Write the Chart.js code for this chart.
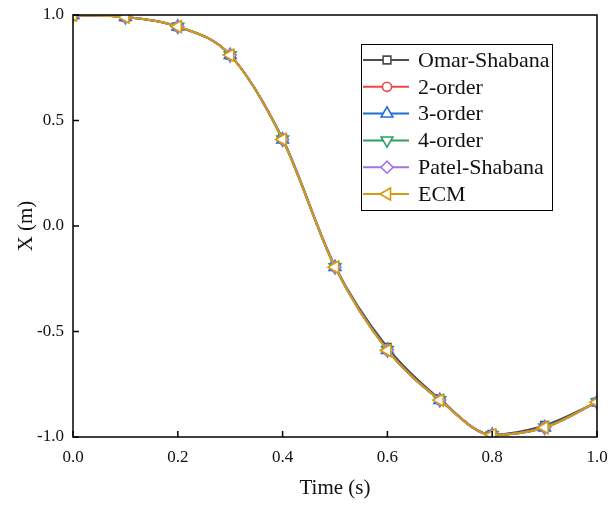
<!DOCTYPE html>
<html>
<head>
<meta charset="utf-8">
<script src="https://cdn.jsdelivr.net/npm/chart.js@4.4.0/dist/chart.umd.min.js"></script>
<style>
  html, body { margin: 0; padding: 0; background: #fff; }
  #wrap { width: 614px; height: 505px; }
</style>
</head>
<body>
<div id="wrap"><canvas id="chartX"></canvas></div>
<script>
const times = [0.0, 0.1, 0.2, 0.3, 0.4, 0.5, 0.6, 0.7, 0.8, 0.9, 1.0]
const omarShabana = [1.0, 0.99, 0.945, 0.81, 0.415, -0.19, -0.575, -0.82, -0.988, -0.945, -0.835]
const order2 = [1.0, 0.99, 0.945, 0.81, 0.41, -0.195, -0.588, -0.825, -0.99, -0.955, -0.835]
const order3 = [1.0, 0.99, 0.945, 0.81, 0.41, -0.195, -0.588, -0.825, -0.99, -0.955, -0.835]
const order4 = [1.0, 0.99, 0.945, 0.81, 0.41, -0.195, -0.588, -0.825, -0.99, -0.955, -0.835]
const patelShabana = [1.0, 0.99, 0.945, 0.81, 0.41, -0.195, -0.588, -0.825, -0.99, -0.955, -0.835]
const ecm = [1.0, 0.99, 0.945, 0.81, 0.41, -0.195, -0.59, -0.825, -0.99, -0.955, -0.835]
const xTicks = [0.0, 0.2, 0.4, 0.6, 0.8, 1.0]
const yTicks = [-1.0, -0.5, 0.0, 0.5, 1.0]

const seriesNames = ['Omar-Shabana', '2-order', '3-order', '4-order', 'Patel-Shabana', 'ECM']
const seriesValues = [omarShabana, order2, order3, order4, patelShabana, ecm]
const seriesColors = ['#4d4d4d', '#f04646', '#1f6fd6', '#2ea05f', '#a273e6', '#d49a12']
// [style, rotation, radius]
const seriesMarkers = [['rect', 0, 5.5], ['circle', 0, 4.6], ['triangle', 0, 6.8], ['triangle', 180, 6.8], ['rectRot', 0, 6], ['triangle', -90, 7]]

const serif = '"Liberation Serif", "Times New Roman", serif'

const datasets = []
for (var i = 0; i < seriesNames.length; i++) {
  datasets.push({
    label: seriesNames[i],
    data: times.map((t, k) => ({x: t, y: seriesValues[i][k]})),
    borderColor: seriesColors[i],
    backgroundColor: '#ffffff',
    borderWidth: 2,
    pointStyle: seriesMarkers[i][0],
    rotation: seriesMarkers[i][1],
    pointRadius: seriesMarkers[i][2],
    pointBorderWidth: 1.6,
    cubicInterpolationMode: 'monotone',
    order: seriesNames.length - 1 - i
  })
}

// frame, inward ticks and boxed legend
const framePlugin = {
  id: 'frame',
  afterDraw(chart) {
    const ctx = chart.ctx
    const a = chart.chartArea
    const xs = chart.scales.x
    const ys = chart.scales.y
    ctx.save()
    ctx.strokeStyle = '#000'
    ctx.lineWidth = 1.5
    ctx.strokeRect(a.left, a.top, a.right - a.left, a.bottom - a.top)
    ctx.beginPath()
    xTicks.forEach(v => {
      const px = xs.getPixelForValue(v)
      ctx.moveTo(px, a.bottom); ctx.lineTo(px, a.bottom - 6)
    })
    yTicks.forEach(v => {
      const py = ys.getPixelForValue(v)
      ctx.moveTo(a.left, py); ctx.lineTo(a.left + 6, py)
    })
    ctx.stroke()

    // legend
    const bx = 361, by = 44, bw = 191, bh = 166
    ctx.fillStyle = '#fff'
    ctx.fillRect(bx, by, bw, bh)
    ctx.lineWidth = 1
    ctx.strokeRect(bx + 0.5, by + 0.5, bw, bh)
    ctx.font = '22px ' + serif
    ctx.textBaseline = 'middle'
    chart.data.datasets.forEach((ds, k) => {
      const y = 60 + k * 26.8
      ctx.strokeStyle = ds.borderColor
      ctx.lineWidth = 2
      ctx.beginPath()
      ctx.moveTo(363, y); ctx.lineTo(409, y)
      ctx.stroke()
      ctx.fillStyle = '#fff'
      ctx.lineWidth = 1.6
      Chart.helpers.drawPoint(ctx, {pointStyle: ds.pointStyle, rotation: ds.rotation, radius: ds.pointRadius, borderWidth: 1.6}, 387, y)
      ctx.fillStyle = '#111'
      ctx.fillText(ds.label, 418, y + 1)
    })
    ctx.restore()
  }
}

new Chart(document.getElementById('chartX'), {
  type: 'line',
  data: { datasets: datasets },
  options: {
    responsive: true,
    maintainAspectRatio: false,
    animation: false,
    layout: { padding: { top: 15, right: 17, left: 0, bottom: 0 } },
    plugins: {
      legend: { display: false },
      tooltip: { enabled: false }
    },
    scales: {
      x: {
        type: 'linear',
        min: 0, max: 1,
        afterBuildTicks: s => { s.ticks = xTicks.map(v => ({value: v})) },
        afterFit: s => { s.height = 68; s.paddingLeft = 0; s.paddingRight = 0 },
        grid: { display: false, drawTicks: false },
        border: { display: false },
        ticks: {
          color: '#111',
          padding: 10,
          font: { family: serif, size: 17 },
          callback: v => v.toFixed(1)
        },
        title: {
          display: true,
          text: 'Time (s)',
          color: '#111',
          padding: { top: 8 },
          font: { family: serif, size: 21 }
        }
      },
      y: {
        type: 'linear',
        min: -1, max: 1,
        afterBuildTicks: s => { s.ticks = yTicks.map(v => ({value: v})) },
        afterFit: s => { s.width = 73; s.paddingTop = 0; s.paddingBottom = 0 },
        grid: { display: false, drawTicks: false },
        border: { display: false },
        ticks: {
          color: '#111',
          padding: 9,
          font: { family: serif, size: 17 },
          callback: v => v.toFixed(1)
        },
        title: {
          display: true,
          text: 'X (m)',
          color: '#111',
          padding: { top: 14, bottom: 0 },
          font: { family: serif, size: 21 }
        }
      }
    }
  },
  plugins: [framePlugin]
})
</script>
</body>
</html>
